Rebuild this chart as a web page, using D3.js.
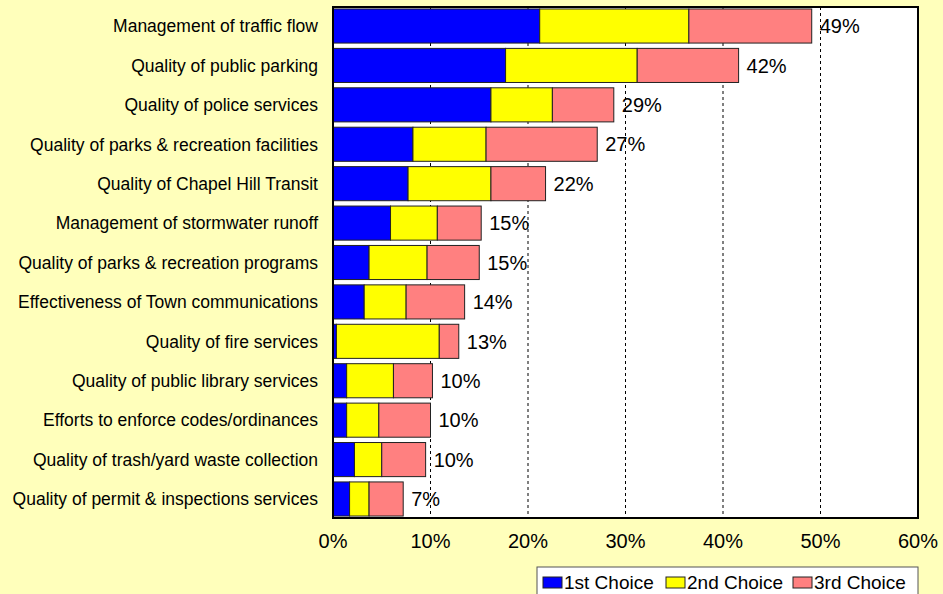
<!DOCTYPE html>
<html>
<head>
<meta charset="utf-8">
<script src="https://cdn.jsdelivr.net/npm/d3@7"></script>
<style>
  body { margin: 0; background: #FFFFBB; }
  text { font-family: Arial, "Liberation Sans", sans-serif; fill: #000; }
</style>
</head>
<body>
<script>
// categories, top to bottom
var categories = [
  "Management of traffic flow",
  "Quality of public parking",
  "Quality of police services",
  "Quality of parks & recreation facilities",
  "Quality of Chapel Hill Transit",
  "Management of stormwater runoff",
  "Quality of parks & recreation programs",
  "Effectiveness of Town communications",
  "Quality of fire services",
  "Quality of public library services",
  "Efforts to enforce codes/ordinances",
  "Quality of trash/yard waste collection",
  "Quality of permit & inspections services"
];

// percent of respondents
var firstChoice  = [21.2, 17.7, 16.2, 8.2, 7.7, 5.9, 3.7, 3.2, 0.35, 1.4, 1.4, 2.2, 1.7];
var secondChoice = [15.3, 13.5, 6.3, 7.5, 8.5, 4.8, 5.95, 4.3, 10.55, 4.8, 3.3, 2.8, 2.0];
var thirdChoice  = [12.6, 10.4, 6.3, 11.4, 5.6, 4.5, 5.35, 6.0, 2.0, 4.0, 5.3, 4.5, 3.5];
var totalLabels  = ["49%", "42%", "29%", "27%", "22%", "15%", "15%", "14%", "13%", "10%", "10%", "10%", "7%"];

var seriesNames = ["1st Choice", "2nd Choice", "3rd Choice"];
var seriesColors = ["#0000FF", "#FFFF00", "#FF8080"];
var xTicks = [0, 10, 20, 30, 40, 50, 60];

var W = 943, H = 594;
var plot = {left: 333, right: 918, top: 7, bottom: 518};

var svg = d3.select("body").append("svg")
  .attr("width", W)
  .attr("height", H);

svg.append("rect")
  .attr("width", W).attr("height", H)
  .attr("fill", "#FFFFBB");

var x = d3.scaleLinear().domain([0, 60]).range([plot.left, plot.right]);
var y = d3.scaleBand().domain(categories)
  .range([plot.top, plot.bottom])
  .paddingInner(0.135)
  .paddingOuter(0.05);

// plot area
svg.append("rect")
  .attr("x", plot.left).attr("y", plot.top)
  .attr("width", plot.right - plot.left)
  .attr("height", plot.bottom - plot.top)
  .attr("fill", "#fff");

// dotted gridlines
svg.append("g").selectAll("line")
  .data(xTicks.slice(1, -1))
  .join("line")
  .attr("x1", d => x(d)).attr("x2", d => x(d))
  .attr("y1", plot.top).attr("y2", plot.bottom)
  .attr("stroke", "#000")
  .attr("stroke-width", 1)
  .attr("stroke-dasharray", "3,3");

// stacked data
var rows = categories.map(function(c, i) {
  return {cat: c, v: [firstChoice[i], secondChoice[i], thirdChoice[i]], label: totalLabels[i]};
});
var stack = d3.stack().keys([0, 1, 2]).value((d, k) => d.v[k]);
var layers = stack(rows);

svg.append("g").selectAll("g")
  .data(layers)
  .join("g")
  .attr("fill", (d, i) => seriesColors[i])
  .selectAll("rect")
  .data(d => d)
  .join("rect")
  .attr("x", d => x(d[0]))
  .attr("y", d => y(d.data.cat))
  .attr("width", d => x(d[1]) - x(d[0]))
  .attr("height", y.bandwidth())
  .attr("stroke", "#222")
  .attr("stroke-width", 1);

// total labels
svg.append("g").selectAll("text")
  .data(layers[2])
  .join("text")
  .attr("x", d => x(d[1]) + 8)
  .attr("y", d => y(d.data.cat) + y.bandwidth() / 2)
  .attr("dy", "0.36em")
  .attr("font-size", 20)
  .text(d => d.data.label);

// plot border
svg.append("rect")
  .attr("x", plot.left).attr("y", plot.top)
  .attr("width", plot.right - plot.left)
  .attr("height", plot.bottom - plot.top)
  .attr("fill", "none")
  .attr("stroke", "#000")
  .attr("stroke-width", 2);

// x axis labels
svg.append("g").selectAll("text")
  .data(xTicks)
  .join("text")
  .attr("x", d => x(d))
  .attr("y", 548)
  .attr("text-anchor", "middle")
  .attr("font-size", 20)
  .text(d => d + "%");

// category labels
svg.append("g").selectAll("text")
  .data(categories)
  .join("text")
  .attr("x", plot.left - 15)
  .attr("y", d => y(d) + y.bandwidth() / 2)
  .attr("dy", "0.36em")
  .attr("text-anchor", "end")
  .attr("font-size", 17.5)
  .text(d => d);

// legend
var lg = svg.append("g").attr("transform", "translate(537,567)");
lg.append("rect")
  .attr("width", 381).attr("height", 40)
  .attr("fill", "#fff")
  .attr("stroke", "#555")
  .attr("stroke-width", 1);
var legX = [6, 129, 256];
var item = lg.selectAll("g.item")
  .data(seriesNames)
  .join("g")
  .attr("class", "item")
  .attr("transform", (d, i) => "translate(" + legX[i] + ",0)");
item.append("rect")
  .attr("y", 10).attr("width", 19).attr("height", 11)
  .attr("fill", (d, i) => seriesColors[i])
  .attr("stroke", "#222");
item.append("text")
  .attr("x", 21).attr("y", 15.5)
  .attr("dy", "0.36em")
  .attr("font-size", 19)
  .text(d => d);
</script>
</body>
</html>
